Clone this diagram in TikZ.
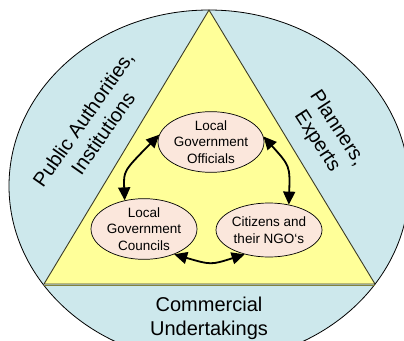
\documentclass[tikz,border=0pt]{standalone}
\usepackage{fontspec}
\setmainfont{Liberation Sans}
\usetikzlibrary{shapes.geometric,arrows.meta}
\definecolor{bgblue}{RGB}{205,232,236}
\definecolor{triyellow}{RGB}{255,255,153}
\definecolor{peach}{RGB}{251,231,220}
\definecolor{edgegray}{RGB}{60,60,40}
\definecolor{baseolive}{RGB}{130,130,60}
\begin{document}
\begin{tikzpicture}[x=1pt,y=-1pt,
  pe/.style={ellipse, draw, fill=peach, minimum width=106pt, minimum height=54pt,
    inner sep=0pt, align=center, font=\fontsize{13.5}{16.5}\selectfont, line width=0.7pt},
  big/.style={align=center, inner sep=0pt, font=\fontsize{20}{24}\selectfont},
  dbl/.style={{Triangle[length=13pt,width=12pt]}-{Triangle[length=13pt,width=12pt]}, line width=1.8pt}]
\useasboundingbox (0,0) rectangle (404,340);
\clip (0,0) rectangle (404,340);
\draw[fill=bgblue, line width=0.8pt] (209,186) ellipse [x radius=200, y radius=176];
\coordinate (apex) at (209,10);
\coordinate (bl) at (44,284);
\coordinate (br) at (375,284);
\draw[fill=triyellow, draw=edgegray, line width=0.9pt, line join=round] (apex) -- (bl) -- (br) -- cycle;
\draw[baseolive, line width=1.2pt] ([yshift=-1.2pt]bl) -- ([yshift=-1.2pt]br);
\node[pe] (off) at (211,142) {Local\\Government\\Officials};
\node[pe] (cou) at (144,229) {Local\\Government\\Councils};
\node[pe] (cit) at (269,230) {Citizens and\\their NGO‘s};
\node[big, rotate=55] (pub) at (93,126) {Public Authorities,\\Institutions};
\node[big, rotate=-57] (pla) at (327,135) {Planners,\\Experts};
\node[big] (com) at (209,318) {Commercial\\Undertakings};
\draw[dbl] (off.172) .. controls (123.5,171) .. (cou.124);
\draw[dbl] (off.6) .. controls (290,166) .. (cit.52);
\draw[dbl] (cou.-40) .. controls (211,265) .. (cit.225);
\end{tikzpicture}
\end{document}
